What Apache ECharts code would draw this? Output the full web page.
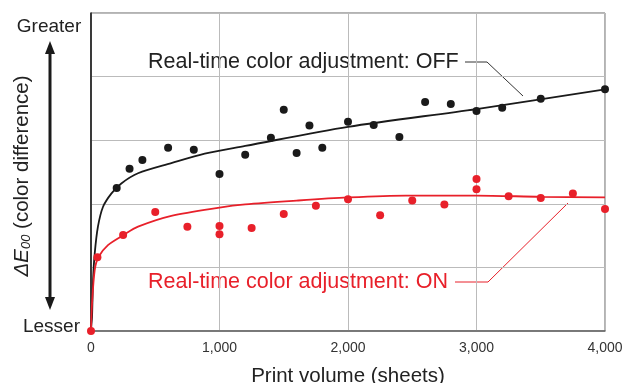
<!DOCTYPE html>
<html>
<head>
<meta charset="utf-8">
<script src="https://cdn.jsdelivr.net/npm/echarts@6/dist/echarts.min.js"></script>
<style>
  html, body { margin: 0; padding: 0; background: #fff; }
  #chart-container { width: 625px; height: 383px; }
</style>
</head>
<body>
<div id="chart-container"></div>
<script>
// x ticks (sheets)
var xTicks = [0, 1000, 2000, 3000, 4000];

// measured points, adjustment OFF
var offPoints = [
  [200, 2.25], [300, 2.55], [400, 2.69], [600, 2.88], [800, 2.85],
  [1000, 2.47], [1200, 2.77], [1400, 3.04], [1500, 3.48], [1600, 2.80],
  [1700, 3.23], [1800, 2.88], [2000, 3.29], [2200, 3.24], [2400, 3.05],
  [2600, 3.60], [2800, 3.57], [3000, 3.46], [3200, 3.51], [3500, 3.65],
  [4000, 3.80]
];

// measured points, adjustment ON
var onPoints = [
  [0, 0], [50, 1.16], [250, 1.51], [500, 1.87], [750, 1.64],
  [1000, 1.65], [1000, 1.52], [1250, 1.62], [1500, 1.84], [1750, 1.97],
  [2000, 2.07], [2250, 1.82], [2500, 2.05], [2750, 1.99], [3000, 2.23],
  [3000, 2.39], [3250, 2.12], [3500, 2.09], [3750, 2.16], [4000, 1.92]
];

// fitted curves
var offCurve = [
  [0, 0], [3, 0.1], [8, 0.22], [16, 0.8], [29, 1.22], [54, 1.64], [93, 1.95],
  [158, 2.16], [236, 2.32], [366, 2.48], [625, 2.64], [885, 2.79],
  [1200, 2.91], [2000, 3.21], [3000, 3.49], [4000, 3.80]
];
var onCurve = [
  [0, 0], [8, 0.43], [29, 0.96], [57, 1.16], [132, 1.35], [254, 1.51],
  [366, 1.64], [625, 1.81], [1000, 1.94], [1200, 1.99], [1600, 2.05],
  [2000, 2.10], [2450, 2.13], [3000, 2.13], [3500, 2.11], [4000, 2.10]
];

var black = '#1a1a1a';
var red = '#e8202a';
var font = "'Liberation Sans', Arial, sans-serif";

var myChart = echarts.init(document.getElementById('chart-container'));

function arrowHead(cx, tipY, dir) {
  // dir -1 = up, 1 = down
  return {
    type: 'polygon',
    shape: { points: [[cx, tipY], [cx - 5, tipY - dir * 13], [cx + 5, tipY - dir * 13]] },
    style: { fill: black }
  };
}

var option = {
  animation: false,
  backgroundColor: '#fff',
  grid: {
    left: 91, right: 20, top: 13, bottom: 52,
    outerBoundsMode: 'none',
    show: true, borderColor: '#666', borderWidth: 1
  },
  xAxis: {
    type: 'value',
    min: xTicks[0],
    max: xTicks[xTicks.length - 1],
    interval: 1000,
    name: 'Print volume (sheets)',
    nameLocation: 'middle',
    nameGap: 35,
    nameTextStyle: { fontFamily: font, fontSize: 20.5, color: '#222' },
    axisLine: { lineStyle: { color: '#666', width: 1.5 } },
    axisTick: { show: false },
    axisLabel: {
      fontFamily: font, fontSize: 14, color: '#333', margin: 10,
      formatter: function (v) { return v.toLocaleString('en-US'); }
    },
    splitLine: { show: true, lineStyle: { color: '#bbb' } }
  },
  yAxis: {
    type: 'value',
    min: 0, max: 5, interval: 1,
    axisLine: { show: true, lineStyle: { color: '#111', width: 1.5 } },
    axisTick: { show: false },
    axisLabel: { show: false },
    splitLine: { show: true, lineStyle: { color: '#bbb' } }
  },
  series: [
    {
      type: 'line', data: offCurve, smooth: 0.3, showSymbol: false,
      lineStyle: { color: black, width: 1.8 }, z: 2
    },
    {
      type: 'line', data: onCurve, smooth: 0.3, showSymbol: false,
      lineStyle: { color: red, width: 1.8 }, z: 2
    },
    {
      type: 'scatter', data: offPoints, symbolSize: 8,
      itemStyle: { color: black, opacity: 1 }, z: 3
    },
    {
      type: 'scatter', data: onPoints, symbolSize: 8,
      itemStyle: { color: red, opacity: 1 }, z: 4
    }
  ],
  graphic: {
    elements: [
      {
        type: 'text', x: 49, y: 27,
        style: { text: 'Greater', font: '19px ' + font, fill: '#222', align: 'center', verticalAlign: 'middle' }
      },
      {
        type: 'text', x: 80, y: 327,
        style: { text: 'Lesser', font: '19px ' + font, fill: '#222', align: 'right', verticalAlign: 'middle' }
      },
      {
        type: 'line', shape: { x1: 50, y1: 50, x2: 50, y2: 300 },
        style: { stroke: black, lineWidth: 3 }
      },
      arrowHead(50, 41, -1),
      arrowHead(50, 310, 1),
      {
        type: 'text', x: 22, y: 176, rotation: Math.PI / 2,
        style: {
          text: '{it|ΔE}{sub|00}{n| (color difference)}',
          align: 'center', verticalAlign: 'middle',
          rich: {
            it: { fontFamily: font, fontSize: 20.5, fontStyle: 'italic', fill: '#222' },
            sub: { fontFamily: font, fontSize: 13, fontStyle: 'italic', fill: '#222', padding: [9, 0, 0, 0] },
            n: { fontFamily: font, fontSize: 20.5, fill: '#222' }
          }
        }
      },
      {
        type: 'text', x: 148, y: 62,
        style: { text: 'Real-time color adjustment: OFF', font: '21.5px ' + font, fill: '#222', verticalAlign: 'middle' }
      },
      {
        type: 'polyline', shape: { points: [[465, 62], [487, 62], [523, 96]] },
        style: { stroke: '#333', lineWidth: 1, fill: null }
      },
      {
        type: 'text', x: 148, y: 282,
        style: { text: 'Real-time color adjustment: ON', font: '21.5px ' + font, fill: red, verticalAlign: 'middle' }
      },
      {
        type: 'polyline', shape: { points: [[455, 282], [488, 282], [568, 203]] },
        style: { stroke: red, lineWidth: 1, fill: null }
      }
    ]
  }
};
myChart.setOption(option);
</script>
</body>
</html>
